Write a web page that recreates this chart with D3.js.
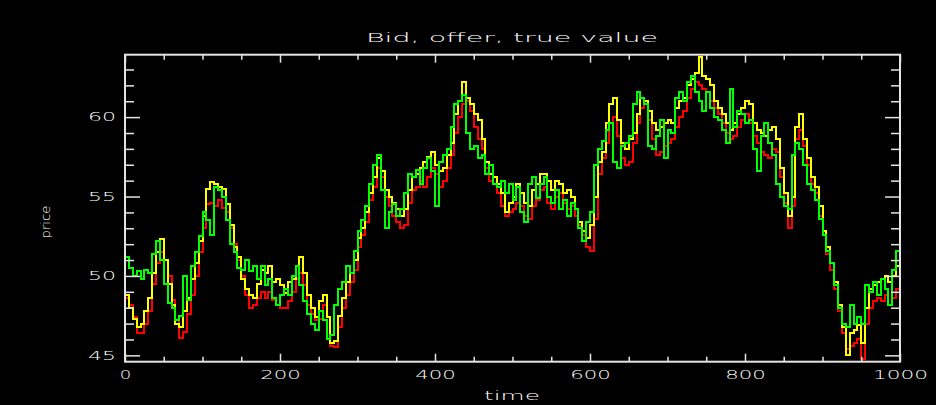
<!DOCTYPE html>
<html>
<head>
<meta charset="utf-8">
<script src="https://cdn.jsdelivr.net/npm/d3@7/dist/d3.min.js"></script>
<style>
  html, body { margin: 0; padding: 0; background: #000; }
  svg { display: block; }
</style>
</head>
<body>
<svg id="chart" width="936" height="405"></svg>
<script>
// Time samples (every 5 ticks over 0..1000)
const times = d3.range(0, 1001, 5);

// True value (green)
const trueValue = [
  51.2, 50.5, 50.0, 50.3, 49.8, 50.4, 50.2, 51.4, 52.2, 51.0,
  49.5, 48.3, 48.0, 47.2, 47.5, 50.0, 48.5, 50.6, 51.5, 52.5,
  54.0, 53.5, 52.6, 55.6, 55.4, 55.0, 53.5, 52.0, 51.5, 50.5,
  50.4, 51.0, 50.3, 50.6, 49.8, 50.6, 49.4, 49.8, 48.6, 48.2,
  48.8, 49.2, 48.8, 50.0, 50.6, 49.4, 48.4, 47.6, 47.0, 46.6,
  47.8, 47.2, 46.0, 46.3, 48.2, 49.2, 49.6, 50.6, 50.2, 51.6,
  52.8, 53.5, 54.4, 55.8, 57.0, 57.6, 55.4, 53.0, 54.0, 54.5,
  53.8, 54.2, 55.2, 56.4, 56.2, 56.7, 55.8, 56.8, 57.4, 56.6,
  54.4, 57.2, 57.6, 58.0, 59.4, 60.8, 61.0, 61.4, 59.0, 58.0,
  58.2, 57.4, 57.6, 56.4, 57.0, 55.8, 55.6, 56.0, 55.2, 55.8,
  54.8, 55.6, 54.0, 53.4, 55.8, 56.2, 54.9, 55.8, 56.2, 55.0,
  54.6, 55.4, 54.2, 54.8, 53.8, 54.6, 54.2, 53.0, 52.2, 53.4,
  54.0, 57.0, 58.0, 58.5, 59.2, 59.6, 57.2, 56.8, 58.2, 58.4,
  58.8, 60.8, 61.6, 61.2, 60.8, 58.2, 58.0, 58.8, 59.8, 57.4,
  59.2, 59.0, 61.2, 61.6, 61.0, 62.2, 62.6, 61.6, 61.0, 60.4,
  61.6, 60.6, 60.0, 59.8, 59.2, 58.4, 61.8, 59.4, 60.4, 60.2,
  59.6, 59.8, 58.0, 56.6, 58.8, 59.6, 58.4, 57.6, 55.8, 55.0,
  54.4, 54.2, 57.6, 58.4, 58.0, 57.0, 55.8, 55.4, 54.8, 53.6,
  52.6, 51.6, 50.8, 49.4, 48.0, 47.0, 46.8, 48.2, 47.0, 47.4,
  47.0, 49.4, 49.0, 49.6, 48.8, 49.8, 49.2, 48.2, 50.4, 51.6,
  51.9
];

// Offer (yellow)
const offer = [
  48.8, 48.0, 47.3, 46.8, 47.0, 47.8, 48.6, 50.2, 51.5, 52.3,
  51.0, 49.5, 48.2, 47.0, 46.8, 47.8, 48.6, 49.8, 50.8, 52.2,
  53.8, 55.5, 55.9, 55.8, 55.6, 55.5, 54.5, 53.2, 51.8, 51.2,
  49.8, 49.2, 48.8, 48.6, 49.5, 50.4, 50.2, 50.6, 49.6, 49.8,
  49.4, 48.9, 49.6, 49.8, 50.6, 51.2, 50.2, 48.8, 48.0, 47.4,
  48.4, 48.8, 47.4, 45.8, 45.9, 47.5, 48.6, 49.6, 50.2, 51.0,
  52.4, 53.0, 54.0, 55.2, 56.2, 57.4, 56.6, 55.4, 55.0, 54.6,
  54.2, 53.8, 54.2, 55.4, 56.2, 56.4, 56.8, 57.2, 57.5, 57.8,
  57.0, 56.6, 56.8, 57.6, 58.4, 60.2, 61.0, 62.2, 61.2, 60.8,
  60.2, 59.8, 58.6, 57.2, 56.4, 56.2, 55.8, 55.2, 54.0, 54.6,
  55.0, 55.8, 55.2, 54.6, 54.4, 55.4, 55.8, 56.4, 56.4, 56.0,
  55.4, 56.0, 55.8, 55.2, 55.4, 55.0, 54.2, 53.4, 52.8, 52.4,
  53.2, 55.0, 57.2, 57.8, 59.6, 60.8, 61.2, 59.8, 58.4, 58.0,
  58.6, 59.0, 60.2, 61.2, 61.0, 60.4, 59.6, 59.2, 59.4, 59.6,
  59.8, 59.6, 60.6, 61.0, 61.2, 62.0, 62.4, 62.8, 63.8, 62.6,
  62.4, 62.0, 61.0, 60.6, 60.2, 59.6, 59.2, 59.6, 60.2, 60.6,
  61.0, 60.8, 59.6, 59.2, 59.0, 58.8, 59.2, 59.4, 58.6, 56.8,
  55.2, 53.8, 55.0, 59.4, 60.2, 58.6, 57.4, 56.2, 55.6, 54.4,
  52.8, 51.8, 50.8, 49.6, 48.2, 46.8, 45.0, 46.4, 46.6, 46.9,
  45.8, 48.0, 49.2, 49.4, 49.6, 49.8, 50.0, 49.6, 50.0, 50.6,
  50.2
];

// Bid (red)
const bid = [
  48.6, 48.2, 47.4, 46.4, 46.4, 47.0, 47.8, 49.5, 50.8, 51.5,
  51.0, 50.0, 48.5, 47.2, 46.1, 46.5, 47.6, 48.8, 50.0, 51.5,
  53.0, 54.5, 54.6, 54.4, 54.8, 54.3, 54.0, 53.0, 52.0, 51.0,
  50.0, 48.8, 48.0, 48.2, 48.6, 49.0, 48.6, 49.0, 48.5, 48.2,
  48.0, 48.0, 48.4, 49.0, 49.8, 50.2, 49.4, 48.2, 47.6, 47.2,
  47.3, 48.2, 47.4, 45.6, 45.5, 46.8, 48.0, 48.8, 49.6, 50.4,
  51.8, 52.6, 53.4, 54.8, 55.6, 56.8, 56.2, 55.0, 54.4, 53.8,
  53.4, 53.0, 53.2, 54.6, 55.4, 55.6, 56.0, 55.6, 56.2, 56.8,
  56.4, 55.6, 56.0, 56.8, 57.6, 59.0, 60.0, 60.8, 61.0, 60.4,
  59.4, 58.6, 58.0, 56.8, 56.0, 55.8, 55.2, 54.4, 53.8, 54.0,
  54.2, 54.6, 54.4, 53.8, 53.6, 54.4, 54.8, 55.4, 55.6, 54.6,
  54.2, 55.0, 55.2, 54.6, 54.2, 54.4, 53.8, 53.2, 52.6, 51.8,
  51.6, 53.6, 56.4, 57.4, 58.4, 59.6, 60.0, 58.8, 57.4, 57.0,
  57.2, 58.4, 59.6, 60.6, 60.8, 59.8, 58.6, 57.6, 57.8, 58.2,
  58.4, 58.6, 59.4, 60.0, 60.4, 61.2, 61.8, 62.2, 62.0, 61.8,
  61.6, 61.0, 60.6, 60.2, 59.6, 59.0, 58.6, 58.8, 59.4, 59.8,
  60.2, 59.6, 58.8, 58.4, 57.8, 57.6, 57.4, 58.0, 57.8, 56.2,
  54.6, 53.0, 54.4, 58.6, 59.2, 58.2, 57.0, 55.8, 55.2, 53.8,
  52.6, 51.4, 50.4, 49.2, 47.8, 46.4, 45.4, 45.6, 45.8, 46.0,
  44.8, 47.0, 48.0, 48.4, 48.6, 48.4, 48.8, 48.2, 48.6, 49.2,
  49.3
];

// Axis tick values
const xMajorTicks = [0, 200, 400, 600, 800, 1000];
const xMinorTicks = d3.range(50, 1000, 50).filter(v => v % 200 !== 0);
const yMajorTicks = [45, 50, 55, 60];
const yMinorTicks = [46, 47, 48, 49, 51, 52, 53, 54, 56, 57, 58, 59, 61, 62, 63];

const titleText = "Bid, offer, true value";
const xLabel = "time";
const yLabel = "price";

const svg = d3.select("#chart");
const W = 936, H = 405;
svg.append("rect").attr("width", W).attr("height", H).attr("fill", "#000");

const x = d3.scaleLinear().domain([0, 1000]).range([125, 900]);
const y = d3.scaleLinear().domain([44.6, 63.93]).range([361.7, 54.7]);

const frameColor = "#e4e4e4";
const fontFamily = "'DejaVu Sans', sans-serif";
const fontWeight = 200;

// Stretch text to the wide stroke-font look
function wide(sel, perChar, extra) {
  sel.attr("textLength", function() { return this.textContent.length * perChar + (extra || 0); })
     .attr("lengthAdjust", "spacingAndGlyphs");
}

// Data lines, clipped to the plot box
svg.append("clipPath").attr("id", "plotClip")
  .append("rect")
  .attr("x", x(0)).attr("y", y(63.93))
  .attr("width", x(1000) - x(0)).attr("height", y(44.6) - y(63.93));

const plot = svg.append("g").attr("clip-path", "url(#plotClip)");

const series = [
  { name: "bid", values: bid, color: "#ff0000" },
  { name: "offer", values: offer, color: "#ffff00" },
  { name: "true value", values: trueValue, color: "#00ff00" }
];

const line = d3.line()
  .x((d, i) => x(times[i]))
  .y(d => y(d))
  .curve(d3.curveStepAfter);

series.forEach(s => {
  plot.append("path")
    .datum(s.values)
    .attr("fill", "none")
    .attr("stroke", s.color)
    .attr("stroke-width", 2)
    .attr("shape-rendering", "crispEdges")
    .attr("d", line);
});

// Axes: ticks point inward on all four sides
function styleAxis(g) {
  g.select(".domain").remove();
  g.selectAll(".tick line").attr("stroke", frameColor).attr("stroke-width", 1.5);
  g.selectAll(".tick text")
    .attr("fill", "#ffffff")
    .attr("font-family", fontFamily)
    .attr("font-weight", fontWeight)
    .attr("font-size", 12);
}

const bottomMajor = svg.append("g")
  .attr("transform", `translate(0,${y(44.6)})`)
  .call(d3.axisBottom(x).tickValues(xMajorTicks).tickSize(-8).tickPadding(9).tickFormat(d3.format("d")))
  .call(styleAxis);
wide(bottomMajor.selectAll(".tick text"), 14.5, -3);

svg.append("g")
  .attr("transform", `translate(0,${y(44.6)})`)
  .call(d3.axisBottom(x).tickValues(xMinorTicks).tickSize(-5).tickFormat(""))
  .call(styleAxis);

svg.append("g")
  .attr("transform", `translate(0,${y(63.93)})`)
  .call(d3.axisTop(x).tickValues(xMajorTicks).tickSize(-8).tickFormat(""))
  .call(styleAxis);

svg.append("g")
  .attr("transform", `translate(0,${y(63.93)})`)
  .call(d3.axisTop(x).tickValues(xMinorTicks).tickSize(-5).tickFormat(""))
  .call(styleAxis);

const leftMajor = svg.append("g")
  .attr("transform", `translate(${x(0)},0)`)
  .call(d3.axisLeft(y).tickValues(yMajorTicks).tickSize(-15).tickPadding(9).tickFormat(d3.format("d")))
  .call(styleAxis);
wide(leftMajor.selectAll(".tick text"), 15, -2);

svg.append("g")
  .attr("transform", `translate(${x(0)},0)`)
  .call(d3.axisLeft(y).tickValues(yMinorTicks).tickSize(-9).tickFormat(""))
  .call(styleAxis);

svg.append("g")
  .attr("transform", `translate(${x(1000)},0)`)
  .call(d3.axisRight(y).tickValues(yMajorTicks).tickSize(-15).tickFormat(""))
  .call(styleAxis);

svg.append("g")
  .attr("transform", `translate(${x(1000)},0)`)
  .call(d3.axisRight(y).tickValues(yMinorTicks).tickSize(-9).tickFormat(""))
  .call(styleAxis);

// Plot frame
svg.append("rect")
  .attr("x", x(0)).attr("y", y(63.93))
  .attr("width", x(1000) - x(0)).attr("height", y(44.6) - y(63.93))
  .attr("fill", "none")
  .attr("stroke", frameColor)
  .attr("stroke-width", 2);

// Title and axis titles
const title = svg.append("text")
  .attr("x", 512).attr("y", 41.5)
  .attr("text-anchor", "middle")
  .attr("fill", "#ffffff")
  .attr("font-family", fontFamily)
  .attr("font-weight", fontWeight)
  .attr("font-size", 13)
  .text(titleText);
title.attr("textLength", 292).attr("lengthAdjust", "spacingAndGlyphs");

const xt = svg.append("text")
  .attr("x", 512).attr("y", 400)
  .attr("text-anchor", "middle")
  .attr("fill", "#ffffff")
  .attr("font-family", fontFamily)
  .attr("font-weight", fontWeight)
  .attr("font-size", 13)
  .text(xLabel);
xt.attr("textLength", 56).attr("lengthAdjust", "spacingAndGlyphs");

svg.append("text")
  .attr("transform", "translate(50,222) rotate(-90)")
  .attr("text-anchor", "middle")
  .attr("fill", "#ffffff")
  .attr("font-family", fontFamily)
  .attr("font-weight", fontWeight)
  .attr("font-size", 12)
  .attr("textLength", 33)
  .attr("lengthAdjust", "spacingAndGlyphs")
  .text(yLabel);
</script>
</body>
</html>
